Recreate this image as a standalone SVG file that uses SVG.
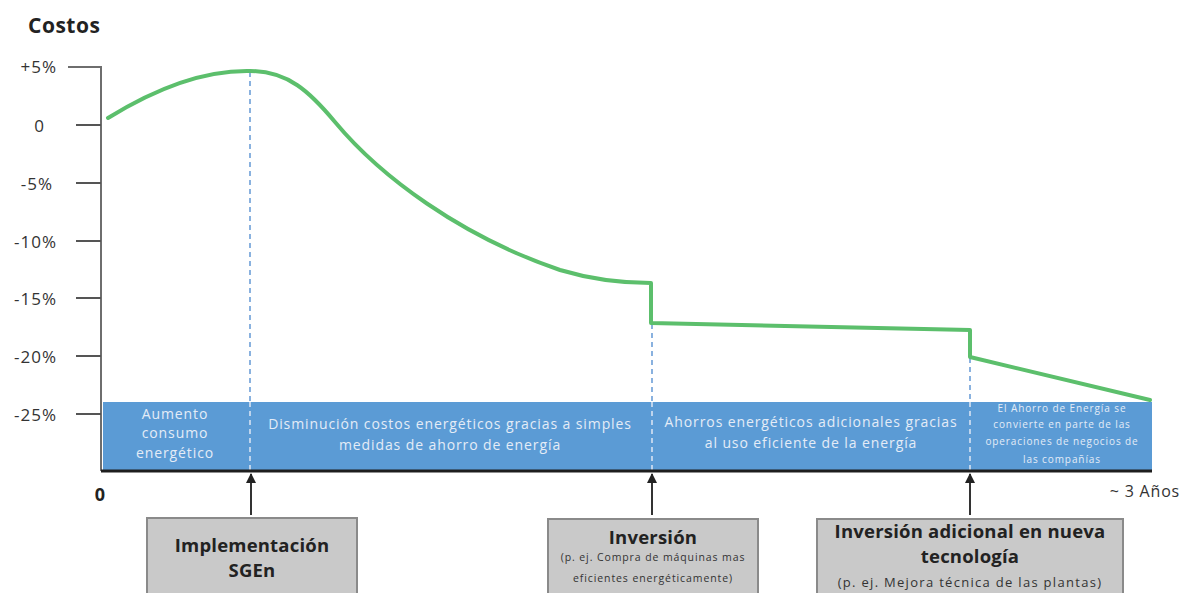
<svg xmlns="http://www.w3.org/2000/svg" width="1180" height="593" viewBox="0 0 1180 593">
  <defs>
    <marker id="arrowUp" viewBox="0 0 10 10" refX="9" refY="5" markerWidth="5" markerHeight="5" orient="auto">
      <path d="M0,0 L10,5 L0,10 z" fill="#222"/>
    </marker>
    <style>
      .axis { stroke: #6e6e6e; stroke-width: 2; fill: none; }
      .tick { stroke: #555; stroke-width: 2; }
      .tlabel { font-family: "Open Sans", "Liberation Sans", sans-serif; font-size: 17px; fill: #333; text-anchor: end; letter-spacing: 1px; }
      .guide { stroke: #6d9fd8; stroke-width: 1.6; stroke-dasharray: 5 4; }
      .guide-in { stroke: #d6e3f3; stroke-width: 1.6; stroke-dasharray: 5 4; }
      .band { fill: #5b9bd5; }
      .btext { font-family: "Open Sans", "Liberation Sans", sans-serif; font-size: 14px; letter-spacing: 0.9px; fill: #e4ecf7; text-anchor: middle; }
      .bsmall { font-family: "Open Sans", "Liberation Sans", sans-serif; font-size: 10px; letter-spacing: 0.9px; fill: #e4ecf7; text-anchor: middle; }
      .box { fill: #c9c9c9; stroke: #8a8a8a; stroke-width: 2; }
      .title { font-family: "Open Sans", "Liberation Sans", sans-serif; font-weight: bold; font-size: 18.5px; letter-spacing: 0.2px; fill: #222; text-anchor: middle; }
      .sub { font-family: "Open Sans", "Liberation Sans", sans-serif; font-size: 10.5px; letter-spacing: 0.9px; fill: #333; text-anchor: middle; }
      .sub2 { font-family: "Open Sans", "Liberation Sans", sans-serif; font-size: 13px; letter-spacing: 1.3px; fill: #333; text-anchor: middle; }
      .conn { stroke: #333; stroke-width: 2; fill: none; marker-end: url(#arrowUp); }
      .curve { stroke: #5cbf6c; stroke-width: 4; fill: none; stroke-linejoin: round; stroke-linecap: round; }
    </style>
  </defs>

  <rect width="1180" height="593" fill="#ffffff"/>

  <!-- y axis title -->
  <text x="28" y="33" font-family="Open Sans, Liberation Sans, sans-serif" font-weight="bold" font-size="21" letter-spacing="0.5" fill="#222">Costos</text>

  <!-- y axis and ticks -->
  <g id="y-axis">
    <path class="axis" d="M68,67 L101,67 L101,471"/>
    <line class="tick" x1="76" y1="125" x2="101" y2="125"/>
    <line class="tick" x1="76" y1="183" x2="101" y2="183"/>
    <line class="tick" x1="76" y1="241" x2="101" y2="241"/>
    <line class="tick" x1="76" y1="298" x2="101" y2="298"/>
    <line class="tick" x1="76" y1="356" x2="101" y2="356"/>
    <line class="tick" x1="76" y1="414" x2="101" y2="414"/>
    <text class="tlabel" x="57" y="73">+5%</text>
    <text class="tlabel" x="45" y="132">0</text>
    <text class="tlabel" x="53" y="190">-5%</text>
    <text class="tlabel" x="57" y="248">-10%</text>
    <text class="tlabel" x="57" y="305">-15%</text>
    <text class="tlabel" x="57" y="363">-20%</text>
    <text class="tlabel" x="57" y="421">-25%</text>
  </g>

  <!-- phase band -->
  <g id="phase-band">
    <rect class="band" x="103" y="402" width="1049" height="68"/>
    <text class="btext" x="175" y="419">Aumento</text>
    <text class="btext" x="175" y="438">consumo</text>
    <text class="btext" x="175" y="458">energético</text>
    <text class="btext" x="450" y="429">Disminución costos energéticos gracias a simples</text>
    <text class="btext" x="450" y="450">medidas de ahorro de energía</text>
    <text class="btext" x="811" y="427">Ahorros energéticos adicionales gracias</text>
    <text class="btext" x="811" y="448">al uso eficiente de la energía</text>
    <text class="bsmall" x="1062" y="412">El Ahorro de Energía se</text>
    <text class="bsmall" x="1062" y="428">convierte en parte de las</text>
    <text class="bsmall" x="1062" y="445">operaciones de negocios de</text>
    <text class="bsmall" x="1062" y="463">las compañías</text>
  </g>

  <!-- vertical guide lines -->
  <g id="guides">
    <line class="guide" x1="250" y1="72" x2="250" y2="402"/>
    <line class="guide-in" x1="250" y1="402" x2="250" y2="470"/>
    <line class="guide" x1="652" y1="324" x2="652" y2="402"/>
    <line class="guide-in" x1="652" y1="402" x2="652" y2="470"/>
    <line class="guide" x1="970" y1="358" x2="970" y2="402"/>
    <line class="guide-in" x1="970" y1="402" x2="970" y2="470"/>
  </g>

  <!-- x axis -->
  <g id="x-axis">
    <line x1="101" y1="471" x2="1152" y2="471" stroke="#1e1e1e" stroke-width="3"/>
    <text x="100" y="501" font-family="Open Sans, Liberation Sans, sans-serif" font-weight="bold" font-size="18" fill="#222" text-anchor="middle">0</text>
    <text x="1180" y="497" font-family="Open Sans, Liberation Sans, sans-serif" font-size="16" letter-spacing="0.8" fill="#333" text-anchor="end">~ 3 Años</text>
  </g>

  <!-- cost curve -->
  <path class="curve" d="M108,118 C150,92 200,70 250,71 C288,71 310,92 335,122 C380,176 460,236 560,270 C600,282 630,283 651,283 L651,323 L970,330 L970,357 L1150,400"/>

  <!-- connectors -->
  <g id="connectors">
    <line class="conn" x1="251" y1="515" x2="251" y2="474"/>
    <line class="conn" x1="652" y1="515" x2="652" y2="474"/>
    <line class="conn" x1="970" y1="515" x2="970" y2="474"/>
  </g>

  <!-- event nodes -->
  <g id="node-sgen">
    <rect class="box" x="147" y="518" width="210" height="90"/>
    <text class="title" x="252" y="552">Implementación</text>
    <text class="title" x="252" y="577">SGEn</text>
  </g>
  <g id="node-inversion">
    <rect class="box" x="548" y="519" width="210" height="90"/>
    <text class="title" x="653" y="544">Inversión</text>
    <text class="sub" x="653" y="561">(p. ej. Compra de máquinas mas</text>
    <text class="sub" x="653" y="582">eficientes energéticamente)</text>
  </g>
  <g id="node-tecnologia">
    <rect class="box" x="817" y="519" width="306" height="90"/>
    <text class="title" x="970" y="538">Inversión adicional en nueva</text>
    <text class="title" x="970" y="563">tecnología</text>
    <text class="sub2" x="970" y="587">(p. ej. Mejora técnica de las plantas)</text>
  </g>
</svg>
